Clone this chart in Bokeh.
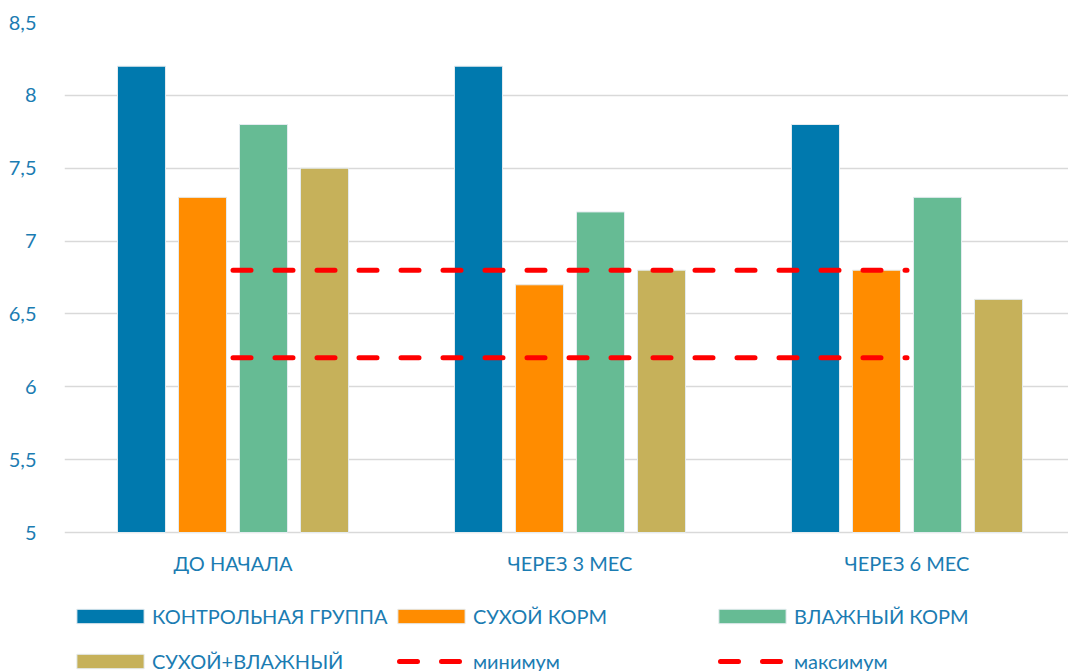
from bokeh.plotting import figure
from bokeh.models import (ColumnDataSource, Range1d, FixedTicker, Legend, LegendItem)
from bokeh.core.properties import value
from bokeh.transform import dodge
from bokeh.embed import file_html
from bokeh.resources import INLINE

# Data
categories = ["ДО НАЧАЛА", "ЧЕРЕЗ 3 МЕС", "ЧЕРЕЗ 6 МЕС"]
control = [8.2, 8.2, 7.8]
dry_food = [7.3, 6.7, 6.8]
wet_food = [7.8, 7.2, 7.3]
dry_wet = [7.5, 6.8, 6.6]
minimum = [6.2, 6.2, 6.2]
maximum = [6.8, 6.8, 6.8]
y_ticks = [5, 5.5, 6, 6.5, 7, 7.5, 8, 8.5]

series_names = ["КОНТРОЛЬНАЯ ГРУППА", "СУХОЙ КОРМ", "ВЛАЖНЫЙ КОРМ", "СУХОЙ+ВЛАЖНЫЙ"]
series_colors = ["#0079AE", "#FF8C00", "#66BB94", "#C6B15A"]

TEXT = "#1B7CB2"
FONT = "Lato"
FSIZE = "20px"
RED = "#FF0000"

W, H = 1068, 671
LEFT, TOP = 64, 22
PLOT_H = 510                     # pixel height of the 5 .. 8.5 value band
BASE = y_ticks[0]
TOPV = y_ticks[-1]
px_per_unit = PLOT_H / (TOPV - BASE)
slot = 337                       # pixel width of one category slot

src = ColumnDataSource(dict(
    x=list(range(len(categories))),
    cat=categories,
    base=[BASE] * len(categories),
    control=control, dry=dry_food, wet=wet_food, drywet=dry_wet,
    mn=minimum, mx=maximum,
))

# the frame runs down to the bottom of the page so the legend can sit inside it
y_start = BASE - (H - TOP - PLOT_H) / px_per_unit
p = figure(width=W, height=H, output_backend="svg", toolbar_location=None,
           x_range=Range1d(-0.5, -0.5 + (W - LEFT) / slot),
           y_range=Range1d(y_start, TOPV),
           min_border_left=LEFT, min_border_right=0, min_border_top=TOP,
           min_border_bottom=0)
p.outline_line_color = None
p.background_fill_color = "white"
p.xaxis.visible = False

pitch = 0.181
bar_w = 0.1424
keys = ["control", "dry", "wet", "drywet"]
renderers = []
for i, (k, c) in enumerate(zip(keys, series_colors)):
    r = p.vbar(x=dodge("x", (i - 1.5) * pitch), top=k, bottom="base", width=bar_w,
               source=src, fill_color=c, line_color="#E4EBEF", line_width=1)
    renderers.append(r)

dash = dict(line_color=RED, line_width=5, line_dash="18 24", line_cap="round")
r_min = p.line(x="x", y="mn", source=src, **dash)
r_max = p.line(x="x", y="mx", source=src, **dash)

# hidden twins of the dashed series, with the dash phase shifted so the
# legend sample shows two centred dashes
leg_min = p.line(x="x", y="mn", source=src, line_dash_offset=32, visible=False, **dash)
leg_max = p.line(x="x", y="mx", source=src, line_dash_offset=32, visible=False, **dash)

# category labels under the value band
p.text(x="x", y="base", text="cat", source=src, text_align="center",
       text_baseline="middle", y_offset=30, text_color=TEXT,
       text_font=value(FONT), text_font_size=FSIZE)

# Value axis
p.yaxis.ticker = FixedTicker(ticks=y_ticks)
p.yaxis.major_label_overrides = {t: (str(t).replace(".", ",") if t % 1 else str(int(t)))
                                 for t in y_ticks}
p.yaxis.axis_line_color = None
p.yaxis.major_tick_line_color = None
p.yaxis.minor_tick_line_color = None
p.yaxis.major_label_text_color = TEXT
p.yaxis.major_label_text_font = FONT
p.yaxis.major_label_text_font_size = FSIZE
p.yaxis.major_label_standoff = 22

p.xgrid.grid_line_color = None
p.ygrid.ticker = FixedTicker(ticks=y_ticks)
p.ygrid.grid_line_color = "#D9D9D9"
p.ygrid.grid_line_width = 1.5

items = [LegendItem(label=n, renderers=[r]) for n, r in zip(series_names, renderers)]
items += [LegendItem(label="минимум", renderers=[leg_min]),
          LegendItem(label="максимум", renderers=[leg_max])]
legend = Legend(items=items, ncols=3, orientation="horizontal",
                location=(4, -12),
                glyph_width=84, glyph_height=18, label_standoff=0,
                label_width=236, label_height=44, spacing=1,
                padding=0, margin=0,
                border_line_color=None, background_fill_alpha=0,
                label_text_font=FONT, label_text_font_size=FSIZE,
                label_text_color=TEXT)
p.add_layout(legend)

open("out.html", "w").write(file_html(p, INLINE))
